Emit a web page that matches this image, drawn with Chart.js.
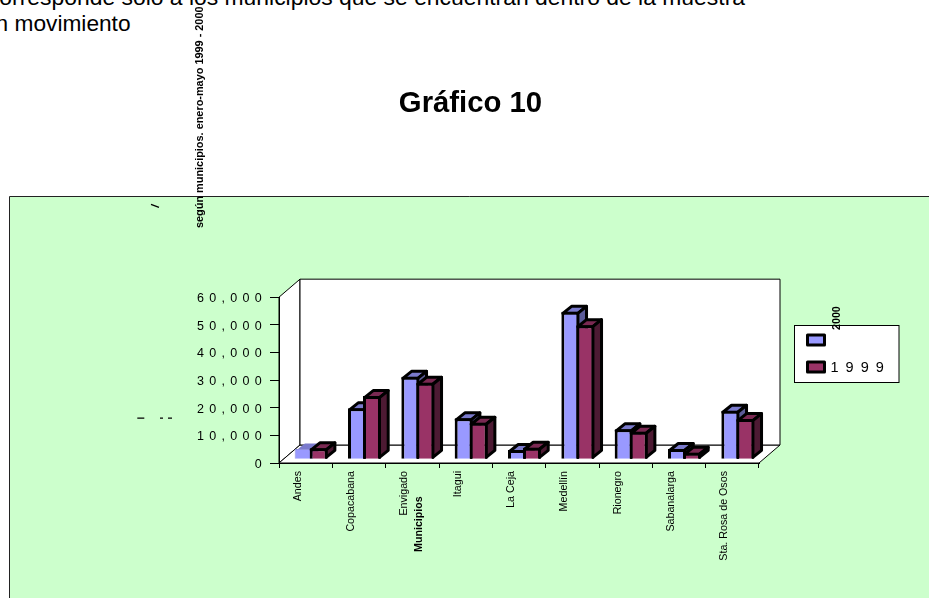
<!DOCTYPE html>
<html><head><meta charset="utf-8">
<script src="https://cdn.jsdelivr.net/npm/chart.js@4"></script>
<style>
html,body{margin:0;padding:0;background:#fff;width:929px;height:598px;overflow:hidden}
#wrap{position:absolute;left:0;top:0;width:929px;height:598px}
canvas{position:absolute;left:0;top:0}
.t{position:absolute;white-space:nowrap;font-family:"Liberation Sans",Arial,sans-serif;color:#000;line-height:1.15}
</style></head><body>
<div class="t" style="right:184px;top:-16px;font-size:22.9px">corresponde solo a los municipios que se encuentran dentro de la muestra</div>
<div class="t" style="left:-17px;top:10px;font-size:22.7px">en movimiento</div>
<div id="wrap"><canvas id="c" width="929" height="598"></canvas></div>
<script>
const categories=["Andes","Copacabana","Envigado","Itagui","La Ceja","Medellín","Rionegro","Sabanalarga","Sta. Rosa de Osos"];
const values2000=[3720,18430,29850,14820,3360,53340,10840,3720,17560];
const values1999=[3975,22880,27680,13230,4190,48540,9975,2385,14560];
const yTicks=[0,10000,20000,30000,40000,50000,60000];
const titleText="Gráfico 10";
const xAxisTitle="Municipios";
const sideTitle="según municipios. enero-mayo 1999 - 2000";
const BLUE={front:"#9999FF",top:"#7A7ACC",side:"#5C5C99"};
const MAROON={front:"#993366",top:"#7A2952",side:"#4D1A33"};
const SANS='"Liberation Sans",Arial,sans-serif';
const OFF={x:5.5,y:-3.7},BAR={x:8.7,y:-7},WALL={x:21,y:-18};

function poly(ctx,pts,fill,stroke,w){
  ctx.beginPath();pts.forEach((p,i)=>i?ctx.lineTo(p[0],p[1]):ctx.moveTo(p[0],p[1]));ctx.closePath();
  if(fill){ctx.fillStyle=fill;ctx.fill();}
  if(stroke){ctx.strokeStyle=stroke;ctx.lineWidth=w;ctx.lineJoin="round";ctx.stroke();}
}
function vtext(ctx,s,x,y,font,align){
  ctx.save();ctx.translate(x,y);ctx.rotate(-Math.PI/2);ctx.font=font;ctx.fillStyle="#000";
  ctx.textAlign=align||"left";ctx.textBaseline="middle";ctx.fillText(s,0,0);ctx.restore();
}
const look={
  id:"look",
  afterLayout(ch){
    const t=ch.titleBlock;t.left=12;t.right=929;t.top=86.5;t.bottom=121.5;t.width=917;
    const y=ch.scales.y;
    if(!y._ls){y._ls=1;const o=y.drawLabels.bind(y);
      y.drawLabels=function(a){ch.ctx.letterSpacing="5.3px";o(a);ch.ctx.letterSpacing="0px";};}
  },
  beforeDraw(ch){
    const c=ch.ctx,a=ch.chartArea;
    c.save();
    c.fillStyle="#CCFFCC";c.fillRect(9.5,196.5,930,420);
    c.strokeStyle="#222";c.lineWidth=1;c.beginPath();c.moveTo(9.5,610);c.lineTo(9.5,196.5);c.lineTo(940,196.5);c.stroke();
    const w=WALL;
    poly(c,[[a.left,a.top],[a.left+w.x,a.top+w.y],[a.left+w.x,a.bottom+w.y],[a.left,a.bottom]],"#fff","#000",1);
    poly(c,[[a.left,a.bottom],[a.left+w.x,a.bottom+w.y],[a.right+w.x,a.bottom+w.y],[a.right,a.bottom]],"#fff","#000",1);
    poly(c,[[a.left+w.x,a.top+w.y],[a.right+w.x,a.top+w.y],[a.right+w.x,a.bottom+w.y],[a.left+w.x,a.bottom+w.y]],"#fff","#000",1);
    c.restore();
  },
  beforeDatasetsDraw(ch){
    const c=ch.ctx,h=1.5;
    ch.data.datasets.forEach((ds,i)=>{
      const meta=ch.getDatasetMeta(i),col=ds.faces;
      c.save();c.translate(OFF.x,OFF.y);
      meta.data.forEach((b,k)=>{
        const p=b.getProps(["x","y","base","width"],true),l=p.x-p.width/2+h,r=p.x+p.width/2-h,t=p.y+h,bt=p.base-h;
        const stroke=(i===0&&k===0)?null:"#000";
        poly(c,[[l,t],[l+BAR.x,t+BAR.y],[r+BAR.x,t+BAR.y],[r,t]],col.top,stroke,3);
        poly(c,[[r,t],[r+BAR.x,t+BAR.y],[r+BAR.x,bt+BAR.y],[r,bt]],col.side,stroke,3);
      });
      meta.controller.draw();
      c.restore();
    });
    return false;
  },
  afterDraw(ch){
    const c=ch.ctx;
    vtext(c,sideTitle,200,228,"bold 10.9px "+SANS);
    vtext(c,xAxisTitle,419,552,"bold 10.7px "+SANS);
    c.save();
    c.fillStyle="#fff";c.strokeStyle="#000";c.lineWidth=1;c.fillRect(794.5,325.5,104.5,57);c.strokeRect(794.5,325.5,104.5,57);
    const sw=(y,col)=>{c.fillStyle=col;c.strokeStyle="#000";c.lineWidth=3;c.lineJoin="round";c.fillRect(807.5,y,17,10);c.strokeRect(807.5,y,17,10);};
    sw(335,BLUE.front);sw(362,MAROON.front);
    c.fillStyle="#000";c.font="14.5px "+SANS;c.letterSpacing="7px";c.textBaseline="middle";c.textAlign="left";
    c.fillText(ch.data.datasets[1].label,830.5,367.5);c.letterSpacing="0px";
    c.restore();
    vtext(c,ch.data.datasets[0].label,837.5,330,"bold 10.7px "+SANS);
    c.save();c.strokeStyle="#000";c.lineWidth=1.3;
    c.beginPath();c.moveTo(151,204.3);c.lineTo(159,207.3);
    [[137.3,144.3],[160,163],[168,172]].forEach(s=>{c.moveTo(s[0],418.2);c.lineTo(s[1],418.2);});
    c.stroke();c.restore();
  }
};
new Chart(document.getElementById("c"),{
  type:"bar",
  data:{labels:categories,datasets:[
    {label:"2000",data:values2000,backgroundColor:BLUE.front,borderColor:values2000.map((v,k)=>k===0?"#9090DD":"#000"),borderWidth:values2000.map((v,k)=>k===0?1:3),faces:BLUE,clip:false},
    {label:"1999",data:values1999,backgroundColor:MAROON.front,borderColor:"#000",borderWidth:3,faces:MAROON,clip:false}
  ]},
  plugins:[look],
  options:{
    responsive:false,animation:false,
    layout:{padding:{left:11,right:170,top:262,bottom:0}},
    datasets:{bar:{barPercentage:1.2,categoryPercentage:0.5625}},
    plugins:{legend:{display:false},tooltip:{enabled:false},
      title:{display:true,text:titleText,color:"#000",padding:0,font:{family:SANS,size:29.3,weight:"bold",lineHeight:1.2}}},
    scales:{
      x:{grid:{drawOnChartArea:false,tickLength:5,color:"#000",offset:true},border:{color:"#000",width:1},
        ticks:{color:"#000",font:{family:SANS,size:10.7},minRotation:90,maxRotation:90,labelOffset:-8,padding:3,autoSkip:false},
        afterFit(s){s.height=135;s.paddingLeft=0;s.paddingRight=0;}},
      y:{min:0,max:60000,grid:{drawOnChartArea:false,tickLength:9,color:"#000"},border:{color:"#000",width:1},
        afterBuildTicks(s){s.ticks=yTicks.map(v=>({value:v}));},
        ticks:{color:"#000",font:{family:SANS,size:12.5},padding:3,labelOffset:1.5,callback:v=>v.toLocaleString("en-US")},
        afterFit(s){s.width=268;s.paddingTop=0;s.paddingBottom=0;}}
    }
  }
});
</script></body></html>
